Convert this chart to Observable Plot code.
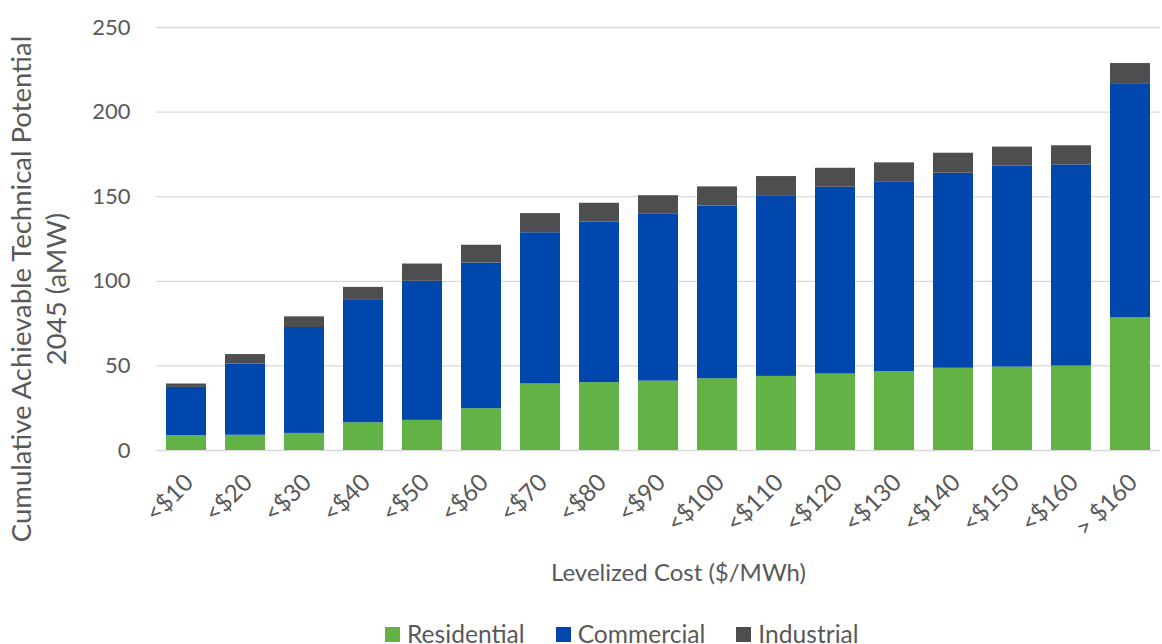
<!DOCTYPE html>
<html><head><meta charset="utf-8">
<script src="https://cdn.jsdelivr.net/npm/d3@7"></script>
<script src="https://cdn.jsdelivr.net/npm/@observablehq/plot@0.6"></script>
<style>
body{margin:0;background:#fff;font-family:Lato,sans-serif;}
#wrap{position:relative;width:1162px;height:644px;overflow:hidden;background:#fff;}
#legend{position:absolute;left:385px;top:622px;display:flex;align-items:center;font-size:24.6px;color:#595959;line-height:24px;white-space:nowrap;}
#legend .item{display:flex;align-items:center;margin-right:31px;}
#legend .sw{width:15px;height:15px;margin-right:7px;}
</style></head><body><div id="wrap"><div id="chart"></div><div id="legend"></div></div>
<script>
const categories = ["<$10","<$20","<$30","<$40","<$50","<$60","<$70","<$80","<$90","<$100","<$110","<$120","<$130","<$140","<$150","<$160","> $160"];
const residential = [8.7, 9.0, 10.1, 16.4, 17.8, 24.7, 39.3, 40.1, 41.0, 42.4, 43.8, 45.2, 46.6, 48.6, 49.3, 49.9, 78.6];
const commercial  = [28.6, 42.1, 62.6, 72.3, 82.2, 86.1, 89.4, 95.0, 98.6, 102.1, 106.8, 110.4, 111.9, 115.3, 118.9, 118.9, 138.2];
const industrial  = [2.0, 5.6, 6.3, 7.7, 10.2, 10.5, 11.3, 11.0, 11.0, 11.3, 11.3, 11.2, 11.5, 11.8, 11.1, 11.3, 11.9];
const seriesNames = ["Residential","Commercial","Industrial"];
const seriesColors = ["#63b246","#0047ad","#4e4e50"];
const yTicks = [0,50,100,150,200,250];
const yTitle = ["Cumulative Achievable Technical Potential","2045 (aMW)"];
const xTitle = "Levelized Cost ($/MWh)";

const seriesValues = [residential, commercial, industrial];
const rows = [];
categories.forEach((c, i) => {
  seriesNames.forEach((s, k) => rows.push({cost: c, series: s, value: seriesValues[k][i]}));
});

const chart = Plot.plot({
  width: 1162, height: 644,
  marginTop: 27, marginBottom: 194, marginLeft: 156, marginRight: 2,
  style: {fontFamily: "Lato, sans-serif", background: "white", color: "#595959", overflow: "visible"},
  x: {domain: categories, paddingInner: 0.32, paddingOuter: 0.16, label: null},
  y: {domain: [0, 250], label: null},
  color: {domain: seriesNames, range: seriesColors},
  marks: [
    Plot.ruleY(yTicks, {stroke: "#d9d9d9", strokeWidth: 1.3}),
    Plot.barY(rows, {x: "cost", y: "value", fill: "series", order: seriesNames}),
    Plot.axisY({ticks: yTicks, tickSize: 0, tickPadding: 26, fontSize: 22, label: null}),
    Plot.axisX({tickRotate: -45, tickSize: 0, tickPadding: 28, dx: 3, fontSize: 24, label: null}),
    Plot.text([xTitle], {frameAnchor: "bottom", dx: 20, dy: 130, fontSize: 24, fill: "#595959"}),
    Plot.text([yTitle.join("\n")], {frameAnchor: "left", textAnchor: "middle", rotate: -90, dx: -119, dy: 50, fontSize: 27.5, lineHeight: 1.25, fill: "#595959"})
  ]
});
document.getElementById("chart").appendChild(chart);

const legend = document.getElementById("legend");
seriesNames.forEach((s, k) => {
  const it = document.createElement("div");
  it.className = "item";
  const sw = document.createElement("span");
  sw.className = "sw";
  sw.style.background = seriesColors[k];
  const t = document.createElement("span");
  t.textContent = s;
  it.appendChild(sw); it.appendChild(t);
  legend.appendChild(it);
});
</script></body></html>
